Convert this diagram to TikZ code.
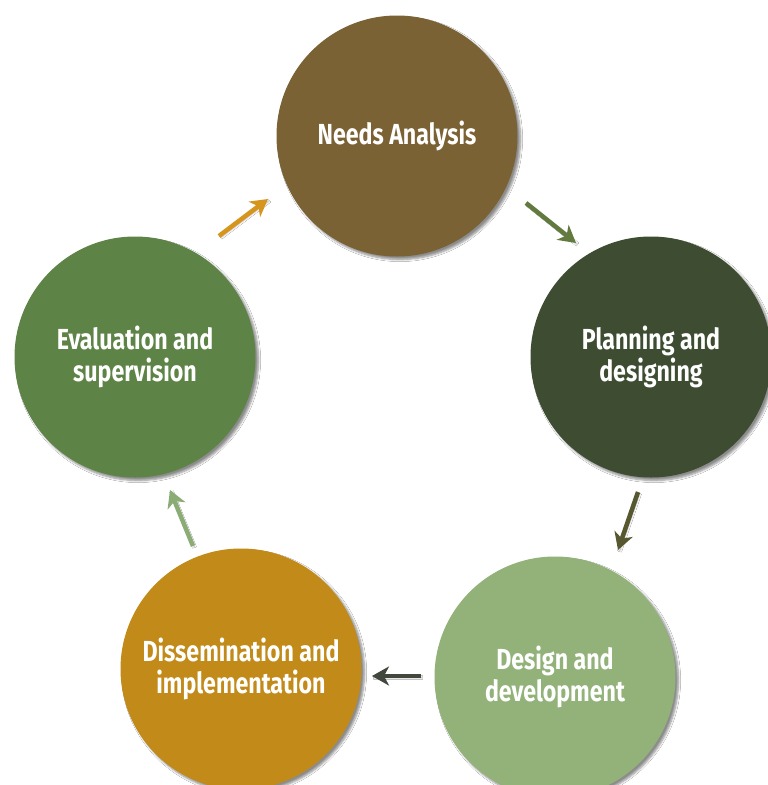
\documentclass[tikz,border=0pt]{standalone}
\usepackage{fontspec}
\setmainfont{Fira Sans}[FakeStretch=0.8]
\usetikzlibrary{arrows.meta,shadows.blur}

\definecolor{needsc}{RGB}{122,98,52}
\definecolor{planc}{RGB}{62,77,50}
\definecolor{devc}{RGB}{147,178,122}
\definecolor{dissc}{RGB}{193,138,25}
\definecolor{evalc}{RGB}{94,131,70}
\definecolor{arrgold}{RGB}{214,150,30}
\definecolor{arrgreen}{RGB}{98,122,62}
\definecolor{arrolive}{RGB}{88,88,48}
\definecolor{arrgray}{RGB}{66,72,62}
\definecolor{arrlight}{RGB}{140,172,118}

\tikzset{
  stage/.style={circle, fill=#1, minimum size=241pt, inner sep=0pt,
    text=white, align=center, font=\bfseries\fontsize{29}{32}\selectfont,
    blur shadow={shadow xshift=3pt, shadow yshift=-3pt,
      shadow blur steps=6, shadow opacity=45}},
  flow/.style={draw=#1, line width=4.5pt,
    -{Stealth[length=17pt,width=19pt,inset=5pt]},
    blur shadow={shadow xshift=1.5pt, shadow yshift=-1.5pt,
      shadow blur steps=3, shadow opacity=35}}
}

\begin{document}
\begin{tikzpicture}[x=1pt,y=-1pt]
  \useasboundingbox (0,0) rectangle (768,785);
  \fill[white] (0,0) rectangle (768,785);

  % the five stages of the cycle
  \node[stage=needsc] (needs) at (397,136) {Needs Analysis};
  \node[stage=planc]  (plan)  at (651,357) {Planning and\\designing};
  \node[stage=devc]   (dev)   at (555,677) {Design and\\development};
  \node[stage=dissc]  (diss)  at (241,669) {Dissemination and\\implementation};
  \node[stage=evalc]  (eval)  at (135,357) {Evaluation and\\supervision};

  % arrow end points between neighbouring stages
  \coordinate (e1s) at (219,236); \coordinate (e1e) at (268,199);
  \coordinate (e2s) at (526,203); \coordinate (e2e) at (576,243);
  \coordinate (e3s) at (638,492); \coordinate (e3e) at (618,550);
  \coordinate (e4s) at (421,676); \coordinate (e4e) at (372,676);
  \coordinate (e5s) at (193,546); \coordinate (e5e) at (170,490);

  \draw[flow=arrgold]  (e1s) -- (e1e);
  \draw[flow=arrgreen] (e2s) -- (e2e);
  \draw[flow=arrolive] (e3s) -- (e3e);
  \draw[flow=arrgray]  (e4s) -- (e4e);
  \draw[flow=arrlight] (e5s) -- (e5e);
\end{tikzpicture}
\end{document}
